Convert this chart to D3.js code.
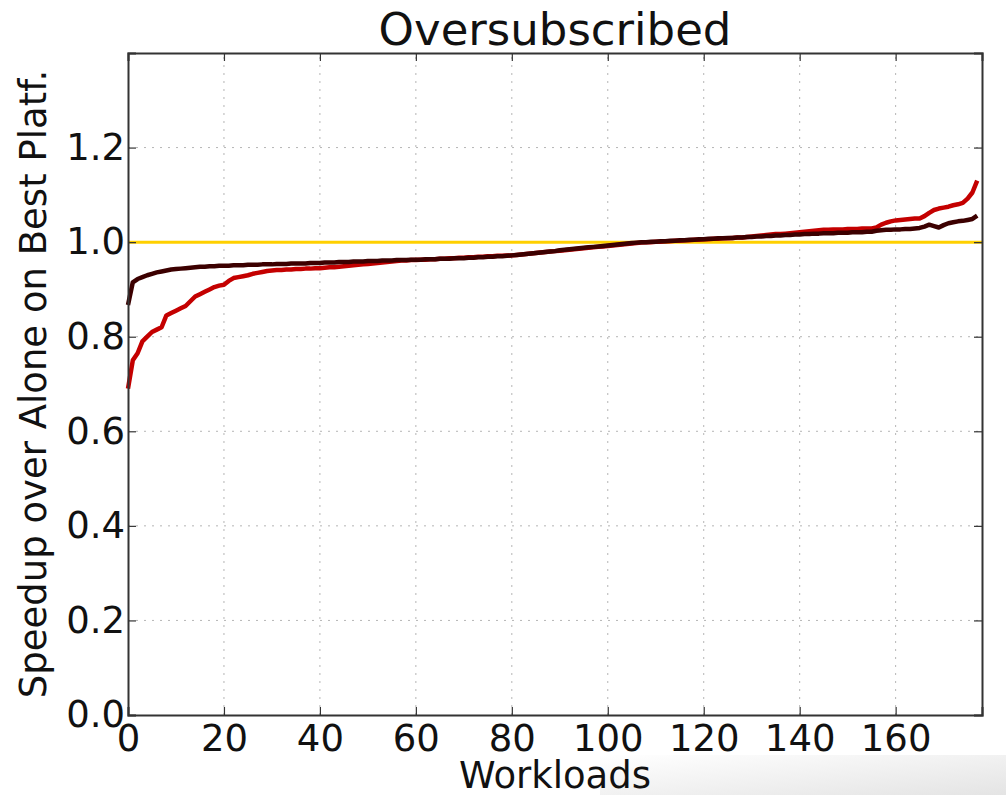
<!DOCTYPE html>
<html lang="en">
<head>
<meta charset="utf-8">
<title>Oversubscribed</title>
<style>
  body { margin: 0; background: #fff; }
  svg { display: block; font-family: "DejaVu Sans", sans-serif; }
  .grid line { stroke: #b5b5b5; stroke-width: 1; stroke-dasharray: 2,6; }
</style>
</head>
<body>
<div id="chart"></div>
<script src="https://d3js.org/d3.v7.min.js"></script>
<script>
// speedup per workload (sorted), red series
var redSeries = [
  0.690,0.750,0.765,0.790,0.800,0.810,0.815,0.820,0.845,0.850,
  0.855,0.860,0.865,0.875,0.885,0.890,0.895,0.900,0.905,0.908,
  0.910,0.918,0.924,0.926,0.928,0.930,0.933,0.935,0.937,0.939,
  0.940,0.941,0.941,0.942,0.942,0.943,0.943,0.944,0.944,0.945,
  0.945,0.946,0.947,0.947,0.948,0.949,0.950,0.951,0.952,0.953,
  0.954,0.955,0.956,0.957,0.958,0.959,0.960,0.961,0.961,0.962,
  0.962,0.963,0.963,0.964,0.964,0.965,0.965,0.966,0.966,0.967,
  0.967,0.968,0.968,0.969,0.969,0.970,0.970,0.971,0.971,0.972,
  0.972,0.973,0.974,0.975,0.976,0.977,0.978,0.979,0.980,0.981,
  0.982,0.983,0.984,0.985,0.986,0.987,0.988,0.989,0.990,0.991,
  0.992,0.993,0.994,0.995,0.996,0.997,0.998,0.999,1.000,1.000,
  1.001,1.001,1.002,1.002,1.003,1.003,1.004,1.004,1.005,1.005,
  1.006,1.006,1.007,1.007,1.008,1.008,1.009,1.010,1.010,1.011,
  1.012,1.013,1.014,1.015,1.016,1.017,1.017,1.018,1.019,1.020,
  1.021,1.022,1.023,1.024,1.025,1.026,1.026,1.027,1.027,1.027,
  1.028,1.028,1.028,1.029,1.029,1.029,1.031,1.037,1.041,1.044,
  1.046,1.047,1.048,1.049,1.050,1.050,1.055,1.062,1.068,1.071,
  1.073,1.075,1.078,1.080,1.083,1.092,1.105,1.130
];

// dark series
var darkSeries = [
  0.867,0.915,0.922,0.926,0.930,0.933,0.936,0.938,0.940,0.942,
  0.943,0.944,0.945,0.946,0.947,0.948,0.948,0.949,0.949,0.950,
  0.950,0.950,0.951,0.951,0.951,0.952,0.952,0.952,0.953,0.953,
  0.953,0.954,0.954,0.954,0.955,0.955,0.955,0.955,0.956,0.956,
  0.956,0.957,0.957,0.957,0.958,0.958,0.958,0.959,0.959,0.959,
  0.960,0.960,0.960,0.961,0.961,0.961,0.962,0.962,0.962,0.963,
  0.963,0.963,0.964,0.964,0.964,0.965,0.965,0.965,0.966,0.966,
  0.966,0.967,0.967,0.968,0.968,0.969,0.969,0.970,0.970,0.971,
  0.972,0.973,0.974,0.975,0.976,0.977,0.978,0.979,0.980,0.981,
  0.983,0.984,0.985,0.986,0.987,0.988,0.989,0.990,0.991,0.992,
  0.993,0.994,0.995,0.996,0.997,0.998,0.999,1.000,1.000,1.001,
  1.001,1.002,1.002,1.003,1.003,1.004,1.004,1.005,1.005,1.006,
  1.006,1.007,1.007,1.008,1.008,1.009,1.009,1.010,1.010,1.011,
  1.011,1.012,1.012,1.013,1.013,1.014,1.014,1.015,1.015,1.016,
  1.016,1.017,1.017,1.018,1.018,1.019,1.019,1.019,1.020,1.020,
  1.020,1.021,1.021,1.021,1.022,1.022,1.024,1.025,1.026,1.026,
  1.027,1.027,1.028,1.028,1.029,1.030,1.033,1.037,1.034,1.031,
  1.036,1.040,1.042,1.044,1.045,1.047,1.049,1.056
];

var baseline = 1.0;
var xTicks = [0, 20, 40, 60, 80, 100, 120, 140, 160];
var yTicks = [0.0, 0.2, 0.4, 0.6, 0.8, 1.0, 1.2];

var W = 1006, H = 795;
var margin = {top: 53, right: 24, bottom: 80, left: 128};

var svg = d3.select("#chart").append("svg")
  .attr("width", W).attr("height", H);

// faint shading in the lower right corner of the screenshot
var grad = svg.append("defs").append("linearGradient")
  .attr("id", "shade").attr("x1", "0").attr("y1", "0").attr("x2", "1").attr("y2", "1");
grad.append("stop").attr("offset", "0%").attr("stop-color", "#fff");
grad.append("stop").attr("offset", "100%").attr("stop-color", "#e4e4e4");
svg.append("rect").attr("x", 600).attr("y", 755).attr("width", 406).attr("height", 40)
  .attr("fill", "url(#shade)");

var x = d3.scaleLinear().domain([0, 178]).range([margin.left, W - margin.right]);
var y = d3.scaleLinear().domain([0, 1.4]).range([H - margin.bottom, margin.top]);

// grid
var grid = svg.append("g").attr("class", "grid");
grid.selectAll(".gx").data(xTicks.slice(1)).enter().append("line")
  .attr("x1", function(d) { return x(d); }).attr("x2", function(d) { return x(d); })
  .attr("y1", y(0)).attr("y2", y(1.4));
grid.selectAll(".gy").data(yTicks.slice(1)).enter().append("line")
  .attr("x1", x(0)).attr("x2", x(178))
  .attr("y1", function(d) { return y(d); }).attr("y2", function(d) { return y(d); });

// lines
var line = d3.line()
  .x(function(d, i) { return x(i); })
  .y(function(d) { return y(d); });

svg.append("line")
  .attr("x1", x(0)).attr("x2", x(178))
  .attr("y1", y(baseline)).attr("y2", y(baseline))
  .attr("stroke", "#ffd000").attr("stroke-width", 3);

svg.append("path").datum(redSeries)
  .attr("d", line).attr("fill", "none")
  .attr("stroke", "#c40000").attr("stroke-width", 4.5)
  .attr("stroke-linejoin", "round");

svg.append("path").datum(darkSeries)
  .attr("d", line).attr("fill", "none")
  .attr("stroke", "#3c0000").attr("stroke-width", 4.5)
  .attr("stroke-linejoin", "round");

// axes (matplotlib-style, ticks inward on all sides)
var tick = 8;
svg.append("g").attr("transform", "translate(0," + y(0) + ")")
  .call(d3.axisBottom(x).tickValues(xTicks).tickSize(-tick).tickPadding(10).tickFormat(d3.format("d")));
svg.append("g").attr("transform", "translate(0," + y(1.4) + ")")
  .call(d3.axisTop(x).tickValues(xTicks).tickSize(-tick).tickFormat(""));
svg.append("g").attr("transform", "translate(" + x(0) + ",0)")
  .call(d3.axisLeft(y).tickValues(yTicks).tickSize(-tick).tickPadding(3).tickFormat(d3.format(".1f")));
svg.append("g").attr("transform", "translate(" + x(178) + ",0)")
  .call(d3.axisRight(y).tickValues(yTicks).tickSize(-tick).tickFormat(""));

svg.selectAll(".domain").attr("stroke", "#333").attr("stroke-width", 2);
svg.selectAll(".tick line").attr("stroke", "#333").attr("stroke-width", 1.2);
svg.selectAll(".tick text").attr("fill", "#111").style("font-size", "37px")
  .style("font-family", "'DejaVu Sans', sans-serif");

// titles
svg.append("text").attr("x", (x(0) + x(178)) / 2).attr("y", 45)
  .attr("text-anchor", "middle").style("font-size", "45px").attr("fill", "#111")
  .text("Oversubscribed");

svg.append("text").attr("x", (x(0) + x(178)) / 2).attr("y", 788)
  .attr("text-anchor", "middle").style("font-size", "37px").attr("fill", "#111")
  .text("Workloads");

svg.append("text")
  .attr("transform", "translate(46," + (y(0.7)) + ") rotate(-90)")
  .attr("text-anchor", "middle").style("font-size", "37px").attr("fill", "#111")
  .text("Speedup over Alone on Best Platf.");
</script>
</body>
</html>
